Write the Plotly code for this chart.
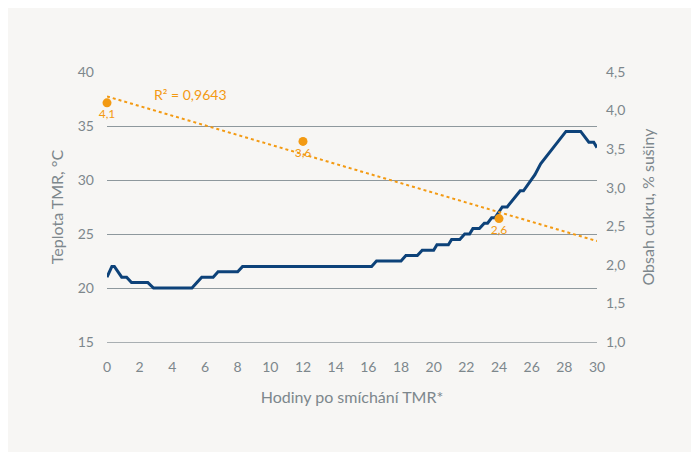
import numpy as np
import plotly.graph_objects as go

# teplota TMR po smíchání (hodiny, °C)
hours = [0, 0.3, 0.45, 0.9, 1.2, 1.5, 2.5, 2.85, 5.2, 5.8, 6.5, 6.8, 8.0, 8.3,
         16.2, 16.5, 18.0, 18.3, 19.0, 19.3, 20.0, 20.2, 20.9, 21.1, 21.6, 21.9,
         22.2, 22.4, 22.8, 23.1, 23.3, 23.55, 23.75, 24.2, 24.5, 25.3, 25.5,
         26.2, 26.55, 28.1, 29.0, 29.5, 29.8, 30.0]
temp = [21, 22, 22, 21, 21, 20.5, 20.5, 20, 20, 21, 21, 21.5, 21.5, 22,
        22, 22.5, 22.5, 23, 23, 23.5, 23.5, 24, 24, 24.5, 24.5, 25,
        25, 25.5, 25.5, 26, 26, 26.5, 26.5, 27.5, 27.5, 29, 29,
        30.5, 31.5, 34.5, 34.5, 33.5, 33.5, 33]

# obsah cukru (% sušiny)
sugar_hours = [0, 12, 24]
sugar = [4.1, 3.6, 2.6]

orange = '#f39a12'
blue = '#0d4279'
grey_txt = '#7d878c'
grid = '#8e989d'

slope, icpt = np.polyfit(sugar_hours, sugar, 1)
pred = np.polyval([slope, icpt], sugar_hours)
r2 = 1 - np.sum((np.array(sugar) - pred) ** 2) / np.sum((np.array(sugar) - np.mean(sugar)) ** 2)
trend_x = [0, 30]
trend_y = list(np.polyval([slope, icpt], trend_x))

fig = go.Figure()
fig.add_trace(go.Scatter(x=hours, y=temp, mode='lines',
                         line=dict(color=blue, width=3), yaxis='y'))
fig.add_trace(go.Scatter(x=trend_x, y=trend_y, mode='lines',
                         line=dict(color=orange, width=2, dash='dot'), yaxis='y2'))
fig.add_trace(go.Scatter(x=sugar_hours, y=sugar, mode='markers+text',
                         marker=dict(color=orange, size=9), cliponaxis=False,
                         text=[f'{v:.1f}'.replace('.', ',') for v in sugar],
                         textposition='bottom center',
                         textfont=dict(color=orange, size=12), yaxis='y2'))

fig.add_annotation(x=5.1, y=4.21, xref='x', yref='y2', showarrow=False,
                   text=f'R² = {r2:.4f}'.replace('.', ','),
                   font=dict(color=orange, size=14))

fig.update_layout(
    width=691, height=444,
    margin=dict(l=99, r=102, t=64, b=110),
    paper_bgcolor='#f7f6f4', plot_bgcolor='rgba(0,0,0,0)',
    showlegend=False, separators=', ',
    font=dict(family='Lato, sans-serif', color=grey_txt, size=14),
    xaxis=dict(range=[0, 30], tickvals=list(range(0, 31, 2)), showgrid=False,
               zeroline=False, showline=True, linecolor='#a9afb2', linewidth=1,
               ticks='', ticklabelstandoff=12,
               title=dict(text='Hodiny po smíchání TMR*', font=dict(size=16), standoff=18)),
    yaxis=dict(range=[15, 40], dtick=5, showgrid=True, gridcolor=grid, gridwidth=1,
               zeroline=False, showline=False, ticks='', ticklabelstandoff=12,
               title=dict(text='Teplota TMR, °C', font=dict(size=16), standoff=10)),
    yaxis2=dict(range=[1, 4.5], dtick=0.5, tickformat='.1f', overlaying='y', side='right',
                showgrid=False, zeroline=False, showline=False, ticks='', ticklabelstandoff=8,
                title=dict(text='Obsah cukru, % sušiny', font=dict(size=16), standoff=18)),
)

fig.write_html("out.html")
